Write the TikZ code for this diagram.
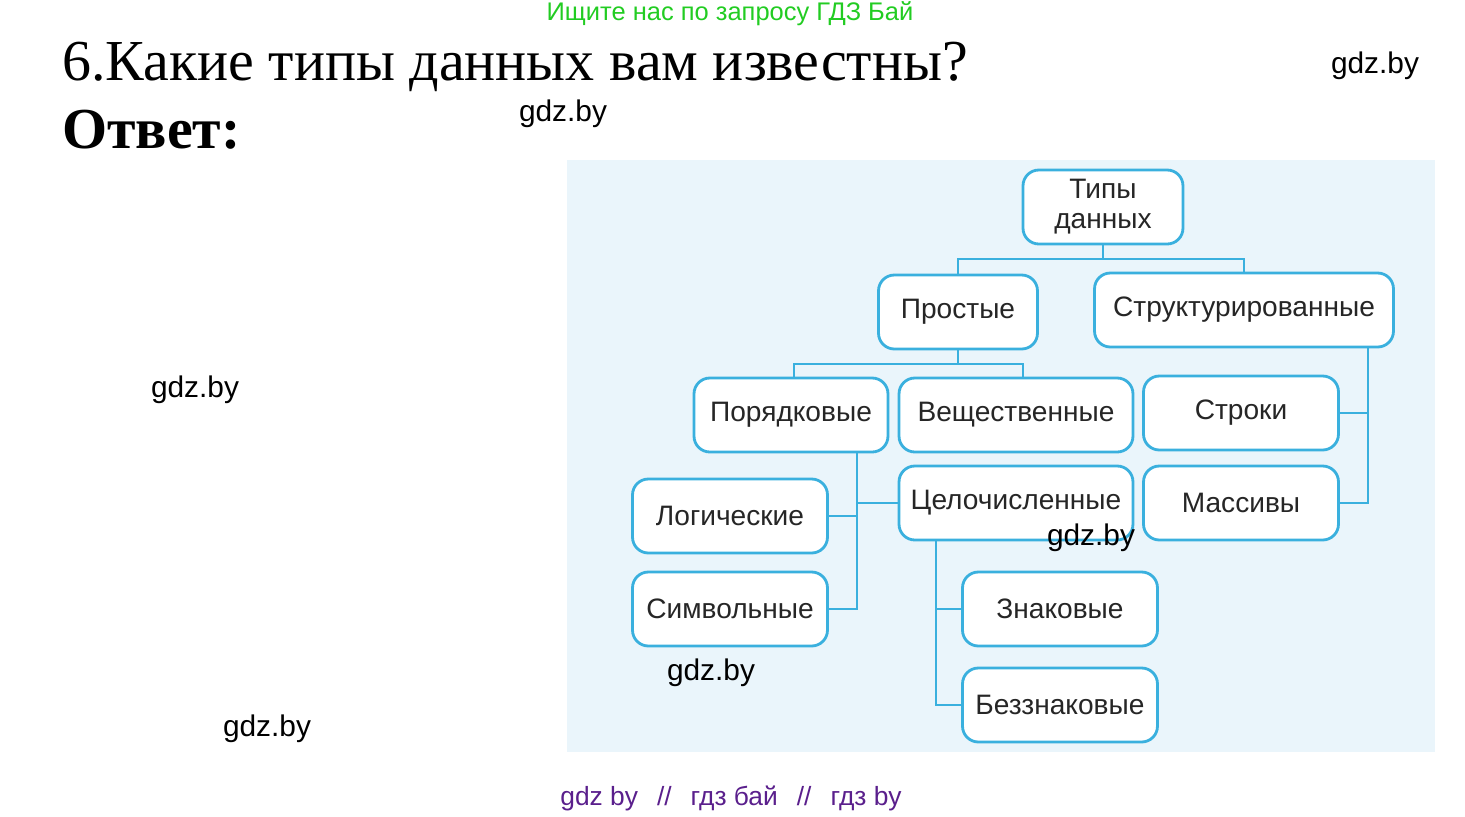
\documentclass[tikz,border=0pt]{standalone}
\usepackage{fontspec}
\setmainfont{Liberation Serif}
\setsansfont{Liberation Sans}
\definecolor{bgblue}{HTML}{EAF5FB}
\definecolor{lineblue}{HTML}{3AB0DE}
\definecolor{wmgreen}{HTML}{22CC22}
\definecolor{wmpurple}{HTML}{5A1F8C}
\begin{document}
\begin{tikzpicture}[x=0.02cm, y=-0.02cm,
  box/.style={draw=lineblue, line width=1.6pt, fill=white, rounded corners=9pt,
    minimum height=1.48cm, inner sep=0pt, align=center, font=\sffamily\fontsize{16}{17}\selectfont, text=black!85},
  link/.style={draw=lineblue, line width=1.6pt},
  wm/.style={font=\sffamily\fontsize{17}{20}\selectfont}]
	\useasboundingbox (0,0) rectangle (1465,816);
	\fill[bgblue] (567,160) rectangle (1435,752);

	\node[wm, text=wmgreen, font=\sffamily\fontsize{14.5}{16}\selectfont] (top) at (730,14) {Ищите нас по запросу ГДЗ Бай};
	\node[anchor=base west, font=\fontsize{33}{36}\selectfont, inner sep=0pt] (title) at (62,80) {6.Какие типы данных вам известны?};
	\node[anchor=base west, font=\bfseries\fontsize{33}{36}\selectfont, inner sep=0pt] (answer) at (62,148) {Ответ:};

	% boxes
	\node[box, minimum width=3.2cm] (types) at (1103,207) {Типы\\данных};
	\node[box, minimum width=3.18cm] (simple) at (958,312) {Простые};
	\node[box, minimum width=5.98cm] (struct) at (1244,310) {Структурированные};
	\node[box, minimum width=3.88cm] (order) at (791,415) {Порядковые};
	\node[box, minimum width=4.68cm] (real) at (1016,415) {Вещественные};
	\node[box, minimum width=3.9cm] (strings) at (1241,413) {Строки};
	\node[box, minimum width=3.9cm] (arrays) at (1241,503) {Массивы};
	\node[box, minimum width=3.9cm] (logic) at (730,516) {Логические};
	\node[box, minimum width=3.9cm] (chars) at (730,609) {Символьные};
	\node[box, minimum width=4.68cm] (int) at (1016,503) {Целочисленные};
	\node[box, minimum width=3.9cm] (signed) at (1060,609) {Знаковые};
	\node[box, minimum width=3.9cm] (unsigned) at (1060,705) {Беззнаковые};

	% connectors
	\coordinate (j1) at (1103,259);
	\coordinate (j2) at (958,364);
	\draw[link] (types) -- (j1) -| (simple);
	\draw[link] (j1) -| (struct);
	\draw[link] (simple) -- (j2) -| (order.north -| 794,0);
	\draw[link] (j2) -| (real.north -| 1023,0);
	\draw[link] (struct.south -| 1368,0) |- (arrays.east);
	\draw[link] (strings.east) -- (strings.east -| 1368,0);
	\draw[link] (order.south -| 857,0) |- (chars.east);
	\draw[link] (logic.east) -- (logic.east -| 857,0);
	\draw[link] (int.west) -- (int.west -| 857,0);
	\draw[link] (int.south -| 936,0) |- (unsigned.west);
	\draw[link] (signed.west) -- (signed.west -| 936,0);

	% watermarks
	\node[wm] (w1) at (1375,66) {gdz.by};
	\node[wm] (w2) at (563,114) {gdz.by};
	\node[wm] (w3) at (195,390) {gdz.by};
	\node[wm] (w4) at (1091,538) {gdz.by};
	\node[wm] (w5) at (711,673) {gdz.by};
	\node[wm] (w6) at (267,729) {gdz.by};
	\node[wm, text=wmpurple, font=\sffamily\fontsize{15}{17}\selectfont] (w7) at (731,798) {gdz by \ \,// \ \,гдз бай \ \,// \ \,гдз by};
\end{tikzpicture}
\end{document}
